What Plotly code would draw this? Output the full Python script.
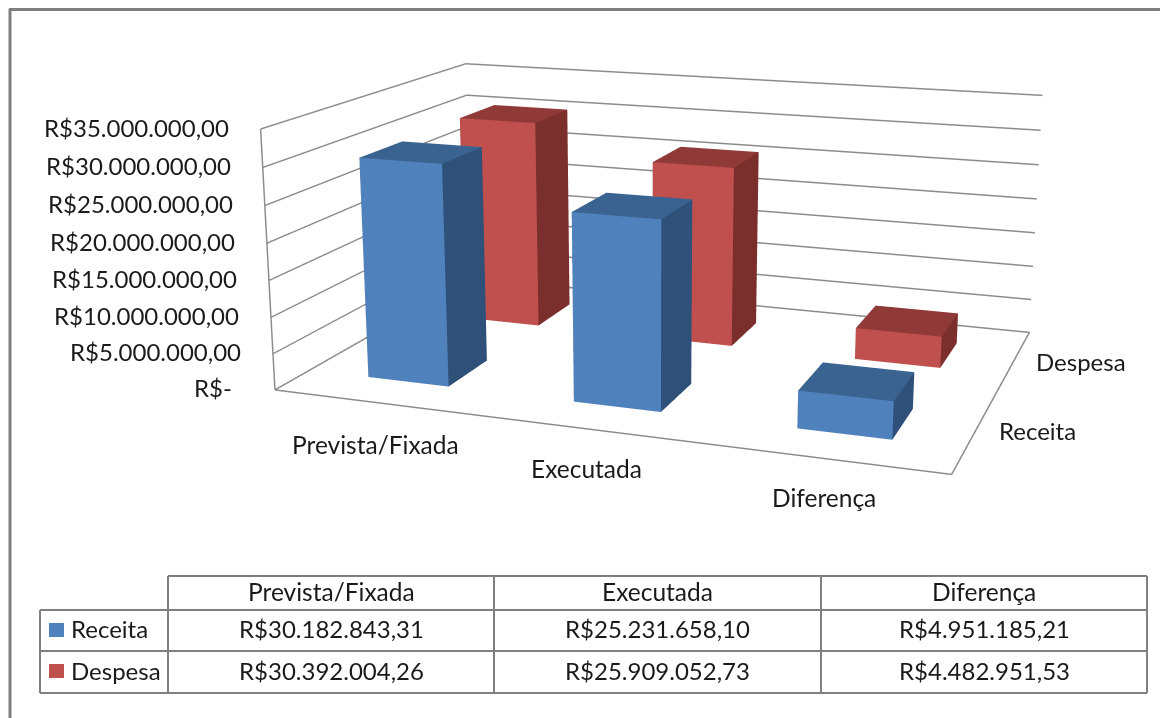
import plotly.graph_objects as go

categories = ["Prevista/Fixada", "Executada", "Diferença"]
series = ["Receita", "Despesa"]
receita = [30182843.31, 25231658.10, 4951185.21]
despesa = [30392004.26, 25909052.73, 4482951.53]
receita_txt = ["R$30.182.843,31", "R$25.231.658,10", "R$4.951.185,21"]
despesa_txt = ["R$30.392.004,26", "R$25.909.052,73", "R$4.482.951,53"]
ticks = [0, 5e6, 10e6, 15e6, 20e6, 25e6, 30e6, 35e6]
tick_txt = ["R$-", "R$5.000.000,00", "R$10.000.000,00", "R$15.000.000,00", "R$20.000.000,00",
            "R$25.000.000,00", "R$30.000.000,00", "R$35.000.000,00"]

# Camera calibrated against the picture (Plotly's field of view is fixed, so the
# scene is made tall and the graph div is moved up to put the principal point in place).
EYE = (1.0947, -3.1490, 0.8209)
CENTER = (0.0330, -0.2116, 0.0072)
UP = (-0.0148, 0.0345, 1)
ASPECT = (1.2459, 0.8372, 0.4848)
LW, LH, CX, TOP = 1160, 1500, 650, -488


def px(x):
    return x / LW


def py(y):
    return 1 - (y - TOP) / LH


BAR_W, BAR_D = 0.4, 0.4
BLUE = ("#4F81BD", "#2F5179", "#3B6391")
RED = ("#C0504D", "#7B2F2D", "#903A38")
LC = "#8C8C8C"
GC = "#7F7F7F"
FONT = dict(family="Lato", size=24, color="#1a1a1a")
FONT_W = dict(family="Lato", size=24.5, color="#1a1a1a")


def bar(xc, yc, v, colors):
    x0, x1, y0, y1 = xc - BAR_W / 2, xc + BAR_W / 2, yc - BAR_D / 2, yc + BAR_D / 2
    xs = [x0, x1, x1, x0, x0, x1, x1, x0]
    ys = [y0, y0, y1, y1, y0, y0, y1, y1]
    zs = [0, 0, 0, 0, v, v, v, v]
    tri = [(0, 1, 5), (0, 5, 4), (1, 2, 6), (1, 6, 5), (4, 5, 6), (4, 6, 7),
           (3, 2, 6), (3, 6, 7), (0, 3, 7), (0, 7, 4), (0, 1, 2), (0, 2, 3)]
    fc = [colors[0]] * 2 + [colors[1]] * 2 + [colors[2]] * 2 + [colors[1]] * 6
    return go.Mesh3d(x=xs, y=ys, z=zs, i=[t[0] for t in tri], j=[t[1] for t in tri], k=[t[2] for t in tri],
                     facecolor=fc, flatshading=True, hoverinfo="skip", showscale=False,
                     lighting=dict(ambient=1, diffuse=0, specular=0, fresnel=0, roughness=1))


fig = go.Figure()
for k, (vals, col) in enumerate([(receita, BLUE), (despesa, RED)]):
    for i, v in enumerate(vals):
        fig.add_trace(bar(i + .5, k + .5, v, col))
fig.add_trace(go.Scatter3d(x=[0, 3, 3, 0, 0, 0], y=[0, 0, 2, 2, 0, 0], z=[0, 0, 0, 0, 0, ticks[-1]], mode="lines",
                           line=dict(color=LC, width=3), hoverinfo="skip", showlegend=False))

anns = []
for t, s in zip(ticks, tick_txt):
    anns.append(dict(x=0, y=0, z=t, text=s, showarrow=False, xanchor="right", yanchor="middle",
                     xshift=-30 if t else -41, yshift=2, font=FONT))
for i, (c, (dx, dy)) in enumerate(zip(categories, [(0, -42), (-5, -39), (-2, -39)])):
    anns.append(dict(x=i + .5, y=0, z=0, text=c, showarrow=False, xanchor="center", yanchor="middle",
                     xshift=dx, yshift=dy, font=FONT_W))
for k, (s, (dx, dy)) in enumerate(zip(series, [(63, 2), (68, 1)])):
    anns.append(dict(x=3, y=k + .5, z=0, text=s, showarrow=False, xanchor="center", yanchor="middle",
                     xshift=dx, yshift=dy, font=FONT))

ax = dict(showgrid=False, zeroline=False, showticklabels=False, showspikes=False, showbackground=False,
          showline=False, title="", ticks="")
x0 = 2 * CX - LW
fig.update_layout(
    width=LW, height=LH, margin=dict(l=0, r=0, t=0, b=0), paper_bgcolor="white", showlegend=False,
    scene=dict(
        domain=dict(x=[x0 / LW, 1], y=[0, 1]),
        xaxis=dict(ax, range=[0, 3]), yaxis=dict(ax, range=[0, 2]),
        zaxis=dict(ax, range=[ticks[0], ticks[-1]], showgrid=True, gridcolor=LC, gridwidth=3, tickvals=ticks),
        aspectmode="manual", aspectratio=dict(x=ASPECT[0], y=ASPECT[1], z=ASPECT[2]),
        camera=dict(eye=dict(x=EYE[0], y=EYE[1], z=EYE[2]), center=dict(x=CENTER[0], y=CENTER[1], z=CENTER[2]),
                    up=dict(x=UP[0], y=UP[1], z=UP[2]), projection=dict(type="perspective")),
        annotations=anns))


def hl(x0, x1, y, w=2):
    fig.add_shape(type="line", xref="paper", yref="paper", x0=px(x0), x1=px(x1), y0=py(y), y1=py(y),
                  line=dict(color=GC, width=w))


def vl(x, y0, y1, w=2):
    fig.add_shape(type="line", xref="paper", yref="paper", x0=px(x), x1=px(x), y0=py(y0), y1=py(y1),
                  line=dict(color=GC, width=w))


def txt(x, y, s, anchor="center", font=FONT):
    fig.add_annotation(xref="paper", yref="paper", x=px(x), y=py(y), text=s, showarrow=False,
                       xanchor=anchor, yanchor="middle", font=font)


hl(9, 1160, 9.5, 3)
vl(10, 9, 718, 3)
colx = [168, 494, 821, 1147]
hl(168, 1147, 576)
hl(40, 1147, 610)
hl(40, 1147, 651)
hl(40, 1147, 693)
vl(40, 610, 693)
for x in colx:
    vl(x, 576, 693)
for i, c in enumerate(categories):
    mx = (colx[i] + colx[i + 1]) / 2
    txt(mx, 591, c, font=FONT_W)
    txt(mx, 628, receita_txt[i])
    txt(mx, 670, despesa_txt[i])
txt(69, 628, series[0], "left")
txt(69, 670, series[1], "left")
for y, c in [(630, BLUE[0]), (671, RED[0])]:
    fig.add_shape(type="rect", xref="paper", yref="paper", x0=px(49), x1=px(64), y0=py(y - 7), y1=py(y + 7),
                  fillcolor=c, line_width=0)

fig.write_html("out.html", post_script=(
    "document.documentElement.style.overflow='hidden';document.body.style.margin='0';"
    f"document.getElementById('{{plot_id}}').style.marginTop='{TOP}px';"))
